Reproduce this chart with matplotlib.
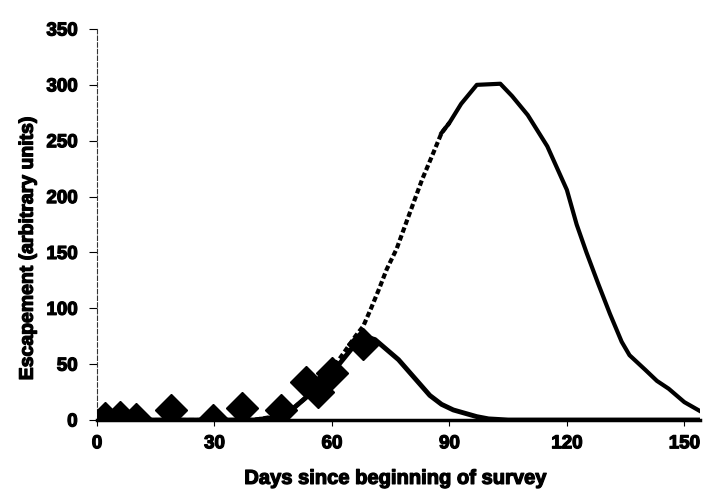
import numpy as np
import matplotlib.pyplot as plt
import matplotlib.patheffects as pe

# survey observations (diamonds)
obs_days = [2, 6, 10, 19, 29.5, 37, 47, 53.5, 56.5, 60, 68]
obs_vals = [2, 3, 1, 9, 0, 11, 9, 34, 25, 42, 68]

# fitted run curve (small, solid)
fit_days = [0, 40, 45, 50, 55, 60, 63, 66, 68, 71, 74, 77, 80, 82, 85, 88, 91, 94, 97, 100, 105, 154]
fit_vals = [0, 0, 2, 10, 25, 42, 55, 68, 75, 72, 63, 54, 42, 34, 22, 14, 9, 6, 3, 1, 0, 0]

# projected run curve (large, dashed then solid)
proj_days = [0, 40, 45, 50, 55, 60, 63, 66, 68, 70, 72, 74, 76.5, 79, 83, 86, 88, 90,
             93, 97, 103, 106, 110, 115, 120, 122.5, 125, 128, 131, 134, 136, 140,
             143, 146, 148, 150, 152, 154]
proj_vals = [0, 0, 3, 10, 25, 45, 60, 75, 84, 100, 117, 135, 153, 177, 215, 240, 257, 266,
             283, 300, 301, 290, 273, 245, 206, 175, 150, 122, 95, 70, 58, 45,
             35, 28, 22, 16, 12, 8]

xticks = [0, 30, 60, 90, 120, 150]
yticks = [0, 50, 100, 150, 200, 250, 300, 350]

font = ['Liberation Sans', 'DejaVu Sans']
heavy = [pe.withStroke(linewidth=0.9, foreground='black')]

fig = plt.figure(figsize=(7.06, 4.98), dpi=100)
ax = fig.add_axes([97 / 706, 1 - 420 / 498, 603 / 706, 391 / 498])

proj_days = np.array(proj_days)
proj_vals = np.array(proj_vals)
ax.plot(proj_days[proj_days <= 90], proj_vals[proj_days <= 90], color='black', lw=3,
        linestyle=(0, (1.3, 0.7)), solid_capstyle='butt', zorder=2)
ax.plot(proj_days[proj_days >= 88], proj_vals[proj_days >= 88], color='black', lw=3,
        solid_joinstyle='round', zorder=2)
ax.plot(fit_days, fit_vals, color='black', lw=3.5, solid_joinstyle='round', zorder=3)
ax.plot(obs_days, obs_vals, linestyle='none', marker='D', ms=16.5, color='black', zorder=4)

ax.set_xlim(0, 154)
ax.set_ylim(0, 350)
ax.set_xticks(xticks)
ax.set_yticks(yticks)

for side in ['top', 'right']:
    ax.spines[side].set_visible(False)
ax.spines['left'].set_linestyle((0, (4, 2)))
ax.spines['left'].set_linewidth(0.8)
ax.spines['left'].set_color('#333333')
ax.spines['bottom'].set_linewidth(2.5)
ax.spines['bottom'].set_zorder(1)

ax.tick_params(axis='y', direction='out', length=6, width=0.8, pad=8)
ax.tick_params(axis='x', direction='out', length=4, width=0.8, pad=7)
for lbl in ax.get_xticklabels() + ax.get_yticklabels():
    lbl.set_fontfamily(font)
    lbl.set_fontweight('bold')
    lbl.set_fontsize(13.5)
    lbl.set_path_effects(heavy)

ax.set_xlabel('Days since beginning of survey', family=font, fontweight='bold',
              fontsize=14.5, path_effects=heavy)
ax.xaxis.set_label_coords(0.495, -0.125)
ax.set_ylabel('Escapement (arbitrary units)', family=font, fontweight='bold',
              fontsize=14, path_effects=heavy)
ax.yaxis.set_label_coords(-0.1, 0.44)

fig.savefig('out.png', dpi=100)
